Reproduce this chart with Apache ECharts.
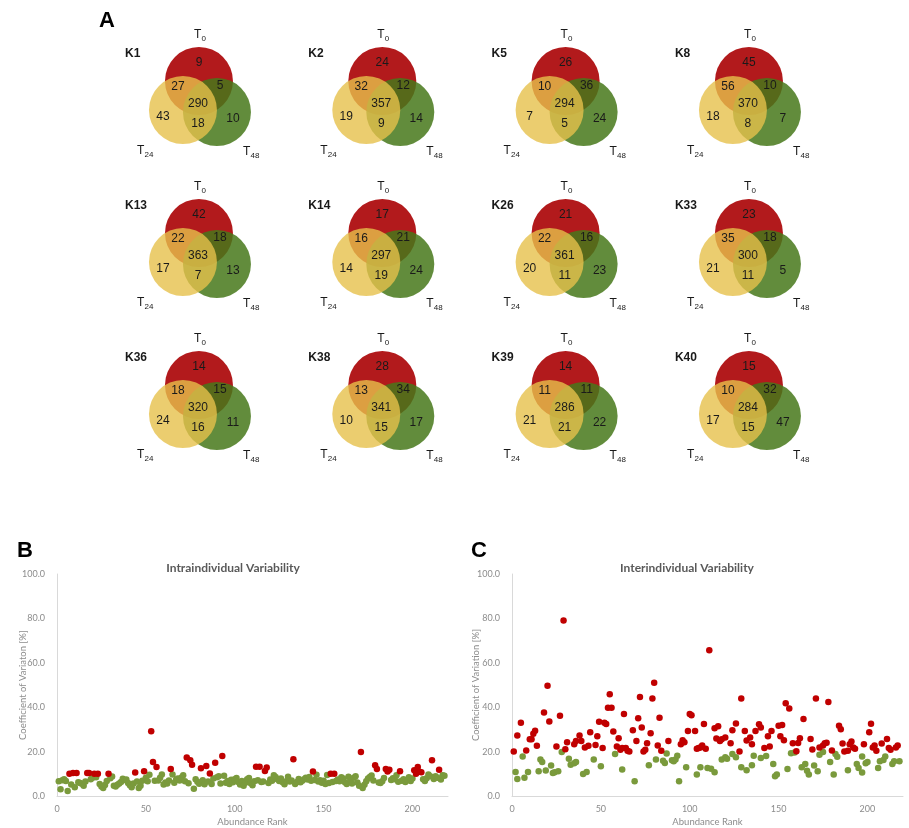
<!DOCTYPE html>
<html>
<head>
<meta charset="utf-8">
<script src="https://cdn.jsdelivr.net/npm/echarts@6/dist/echarts.min.js"></script>
<style>html,body{margin:0;padding:0;background:#fff}#c{width:909px;height:828px}</style>
</head>
<body>
<div id="c"></div>
<script>
// ---------- Panel A: Venn counts ----------
const vennNames = ['K1','K2','K5','K8','K13','K14','K26','K33','K36','K38','K39','K40'];
const onlyT0   = [9,24,26,45,42,17,21,23,14,28,14,15];
const t0t24    = [27,32,10,56,22,16,22,35,18,13,11,10];
const t0t48    = [5,12,36,10,18,21,16,18,15,34,11,32];
const allThree = [290,357,294,370,363,297,361,300,320,341,286,284];
const onlyT24  = [43,19,7,18,17,14,20,21,24,10,21,17];
const t24t48   = [18,9,5,8,7,19,11,11,16,15,21,15];
const onlyT48  = [10,14,24,7,13,24,23,5,11,17,22,47];

// ---------- Panel B: intraindividual CV ----------
const intraRed = [[7,10.0],[9,10.4],[11,10.4],[17,10.4],[18,10.4],[21,10.0],[23,10.0],[29,10.0],[44,10.6],[49,11.2],
 [53,29.2],[54,15.3],[56,13.1],[64,12.2],[73,17.3],[75,16.1],[76,14.1],[81,12.5],[84,13.5],[86,10.1],[89,15.0],[93,18.0],
 [112,13.2],[114,13.2],[117,11.3],[118,12.8],[133,16.5],[144,11.0],[154,10.0],[156,10.0],[171,19.8],[179,13.8],[180,12.2],
 [185,12.2],[186,11.0],[187,11.8],[193,11.2],[201,11.6],[202,10.0],[203,13.1],[204,10.9],[205,10.7],[211,16.1],[215,11.8]];
// green values by abundance rank 1..218 (null = rank shown in red)
const intraGreen = [
 6.7,3.0,7.1,7.6,6.8,2.3,null,5.2,null,3.9,
 null,6.2,5.8,5.5,4.6,6.5,null,null,7.6,8.2,
 null,8.5,null,5.4,4.3,3.6,5.0,6.8,null,8.0,
 8.8,4.6,4.3,5.1,5.6,6.3,7.8,7.2,7.4,5.9,
 4.8,3.9,5.6,null,6.5,3.6,4.6,6.9,null,8.2,
 6.7,9.6,null,null,6.9,null,7.0,8.2,9.7,5.2,
 6.1,5.6,7.0,null,9.7,6.0,7.3,7.9,7.0,8.3,
 9.4,6.6,null,5.7,null,null,3.3,7.5,6.4,5.5,
 null,7.1,5.3,null,6.5,null,5.4,7.9,null,8.5,
 8.9,5.6,null,9.1,6.0,6.8,5.4,7.3,6.2,7.6,
 8.1,6.3,5.2,6.8,4.6,6.0,7.6,8.1,5.7,4.8,
 6.6,null,7.1,null,6.3,6.5,null,null,5.9,7.4,
 6.9,9.3,8.6,7.5,6.8,7.9,6.2,5.3,6.6,8.7,
 6.5,7.0,null,5.4,6.3,7.7,6.2,6.9,7.6,8.2,
 7.4,8.6,6.9,null,7.2,9.6,6.5,7.1,6.0,6.9,
 5.4,9.5,5.9,null,6.3,null,6.8,7.4,6.6,8.5,
 7.9,6.2,5.4,8.7,6.8,5.6,8.2,8.9,6.1,4.6,
 null,3.6,5.1,6.6,7.9,8.6,9.2,7.0,null,null,
 6.1,5.9,6.7,8.1,null,null,null,7.2,8.0,7.5,
 9.3,6.4,null,6.9,7.6,6.3,7.1,8.4,6.8,7.9,
 null,null,null,null,null,7.5,6.8,8.0,9.7,8.9,
 null,7.7,8.9,8.2,null,7.4,9.4,9.1];

// ---------- Panel C: interindividual CV ----------
const interRed = [[1,20.1],[3,27.2],[5,33.0],[8,20.5],[10,25.6],[11,25.6],[12,28.0],[13,29.4],[14,22.6],[18,37.6],
 [20,49.7],[21,33.6],[25,22.3],[27,36.1],[29,79.0],[30,21.1],[31,24.2],[35,23.3],[36,24.8],[38,27.2],[39,24.8],
 [41,21.9],[43,22.6],[44,28.7],[47,23.0],[48,26.9],[49,33.4],[51,21.6],[52,33.0],[53,32.4],[54,39.7],[55,45.8],
 [56,39.7],[57,29.1],[59,22.3],[60,26.0],[61,20.8],[62,21.6],[63,36.9],[64,21.6],[65,20.4],[66,20.1],[68,29.6],
 [70,24.8],[71,35.0],[72,44.6],[73,30.9],[74,20.1],[75,20.8],[76,23.8],[78,28.3],[79,43.9],[80,51.0],[82,22.8],
 [83,35.3],[84,20.4],[88,24.8],[95,23.3],[96,25.1],[97,24.2],[99,29.3],[100,36.9],[101,36.4],[103,29.3],[104,21.3],
 [105,21.6],[106,21.9],[107,22.8],[108,32.4],[109,21.3],[111,65.7],[114,30.5],[115,25.9],[116,31.4],[117,24.8],
 [118,25.6],[120,26.3],[123,23.8],[124,29.6],[126,32.7],[128,20.1],[129,43.9],[131,29.3],[132,25.0],[134,26.3],
 [135,23.3],[137,29.3],[139,32.3],[140,30.8],[142,21.6],[144,26.9],[145,22.3],[146,29.3],[150,31.7],[151,26.9],
 [152,32.0],[153,25.1],[154,41.8],[156,39.4],[158,23.8],[160,20.2],[161,23.9],[162,26.0],[164,34.7],[168,25.7],
 [169,21.0],[171,43.9],[173,21.9],[175,22.8],[176,23.8],[177,24.0],[178,42.3],[180,20.5],[184,31.7],[185,30.1],
 [186,23.7],[187,20.1],[189,20.4],[190,23.3],[191,24.5],[192,21.9],[193,21.3],[198,23.3],[201,28.7],[202,32.6],
 [203,21.9],[204,22.8],[205,20.4],[208,23.6],[211,25.7],[212,21.6],[213,20.8],[216,21.9],[217,22.8]];
const interGreen = [[2,10.8],[3,7.7],[6,17.8],[7,8.2],[9,10.8],[15,11.1],[16,16.4],[17,15.3],[19,11.5],[22,13.7],
 [23,10.4],[24,10.7],[26,11.1],[28,19.8],[32,16.8],[33,14.1],[35,14.7],[36,15.3],[40,9.9],[42,10.8],[46,16.4],
 [50,13.4],[58,18.9],[62,11.9],[69,6.7],[77,13.8],[81,16.4],[85,15.9],[86,14.9],[87,19.2],[90,16.1],[91,15.6],
 [92,16.4],[93,18.1],[94,6.7],[98,12.9],[104,9.7],[106,12.9],[110,12.6],[112,12.3],[114,10.7],[118,16.4],[120,17.5],
 [121,16.8],[124,18.9],[126,17.4],[129,12.9],[132,11.6],[135,13.8],[136,18.1],[140,17.1],[143,18.0],[147,14.4],
 [148,8.9],[149,9.7],[155,12.2],[157,19.3],[159,19.6],[163,12.9],[165,14.4],[166,11.4],[167,9.7],[170,13.7],
 [172,11.2],[173,18.6],[175,19.8],[179,15.3],[181,9.7],[182,18.9],[183,17.7],[189,11.6],[194,14.4],[195,12.6],
 [197,10.6],[197,17.8],[199,14.7],[200,15.3],[206,12.6],[207,15.6],[209,16.2],[210,17.8],[214,14.4],[215,15.6],[218,15.6]];

const cvTicks = [0,20,40,60,80,100];
const rankTicks = [0,50,100,150,200];

// ---------- rendering ----------
const ARIAL = '"Liberation Sans", Arial, sans-serif';
const CHARTFONT = 'Lato, "Open Sans", sans-serif';
const RED = '#c00000', GREEN = '#7a9a3c';

function renderVenn(params, api) {
  const i = api.value(2);
  const p = api.coord([api.value(0), api.value(1)]);
  const cx = p[0], cy = p[1], R = 34;
  const txt = (t, dx, dy, font, align) => ({
    type: 'text', z2: 10,
    style: { text: String(t), x: cx + dx, y: cy + dy, align: align || 'center', verticalAlign: 'middle',
             font: font || ('12px ' + ARIAL), fill: '#1a1a1a' }
  });
  const tLab = (sub, dx, dy) => [
    txt('T', dx, dy, '12px ' + ARIAL, 'left'),
    txt(sub, dx + 7.5, dy + 3.5, '8px ' + ARIAL, 'left')
  ];
  return {
    type: 'group',
    children: [
      { type: 'circle', shape: { cx: cx, cy: cy, r: R }, style: { fill: 'rgb(178,26,28)' } },
      { type: 'circle', shape: { cx: cx + 18, cy: cy + 31, r: R }, style: { fill: 'rgb(71,120,26)', opacity: 0.85 } },
      { type: 'circle', shape: { cx: cx - 16, cy: cy + 29, r: R }, style: { fill: 'rgb(230,192,75)', opacity: 0.8 } },
      txt(onlyT0[i], 0, -18),
      txt(t0t24[i], -21, 6),
      txt(t0t48[i], 21, 5),
      txt(allThree[i], -1, 23),
      txt(onlyT24[i], -36, 36),
      txt(t24t48[i], -1, 43),
      txt(onlyT48[i], 34, 38),
      txt(vennNames[i], -74, -27, 'bold 12px ' + ARIAL, 'left'),
      ...tLab('0', -5, -46),
      ...tLab('24', -62, 70),
      ...tLab('48', 44, 71)
    ]
  };
}

function cvAxes(gi, yName, yGap) {
  const xAxis = {
    gridIndex: gi, type: 'value', min: 0, max: 220, interval: 50,
    axisLine: { show: true, lineStyle: { color: '#d9d9d9', width: 1 } },
    axisTick: { show: false }, splitLine: { show: false },
    axisLabel: { color: '#8c8c8c', fontSize: 9, fontFamily: CHARTFONT, margin: 9, showMaxLabel: false,
                 formatter: v => rankTicks.includes(v) ? String(v) : '' },
    name: 'Abundance Rank', nameLocation: 'middle', nameGap: 21, nameMoveOverlap: false,
    nameTextStyle: { color: '#8c8c8c', fontSize: 9.5, fontFamily: CHARTFONT }
  };
  const yAxis = {
    gridIndex: gi, type: 'value', min: 0, max: 100, interval: 20,
    axisLine: { show: true, lineStyle: { color: '#d9d9d9', width: 1 } },
    axisTick: { show: false }, splitLine: { show: false },
    axisLabel: { color: '#8c8c8c', fontSize: 9, fontFamily: CHARTFONT, margin: 12,
                 formatter: v => cvTicks.includes(v) ? v.toFixed(1) : '' },
    name: yName, nameLocation: 'middle', nameGap: yGap, nameRotate: 90, nameMoveOverlap: false,
    nameTextStyle: { color: '#8c8c8c', fontSize: 9.5, fontFamily: CHARTFONT }
  };
  return [xAxis, yAxis];
}

const [bx, by] = cvAxes(1, 'Coefficient of Variaton [%]', 29);
const [cxA, cyA] = cvAxes(2, 'Coefficient of Variation [%]', 31);

const scatterStyle = (color) => ({ color: color, opacity: 1 });
const DOT = 6.5;

const option = {
  animation: false,
  backgroundColor: '#fff',
  title: [
    { text: 'A', left: 94, top: 5, textStyle: { fontSize: 22, fontWeight: 'bold', fontFamily: ARIAL, color: '#000' } },
    { text: 'B', left: 12, top: 535, textStyle: { fontSize: 22, fontWeight: 'bold', fontFamily: ARIAL, color: '#000' } },
    { text: 'C', left: 466, top: 535, textStyle: { fontSize: 22, fontWeight: 'bold', fontFamily: ARIAL, color: '#000' } },
    { text: 'Intraindividual Variability', left: 228, top: 557, textAlign: 'center',
      textStyle: { fontSize: 12, fontWeight: 'bold', fontFamily: CHARTFONT, color: '#595959' } },
    { text: 'Interindividual Variability', left: 682, top: 557, textAlign: 'center',
      textStyle: { fontSize: 12, fontWeight: 'bold', fontFamily: CHARTFONT, color: '#595959' } }
  ],
  grid: [
    { left: 107.3, top: 5, width: 733.3, height: 456 },
    { left: 57, top: 574, width: 391, height: 224 },
    { left: 512, top: 574, width: 391, height: 224 }
  ],
  xAxis: [
    { gridIndex: 0, type: 'value', min: -0.5, max: 3.5, show: false },
    bx, cxA
  ],
  yAxis: [
    { gridIndex: 0, type: 'value', min: -0.5, max: 2.5, inverse: true, show: false },
    by, cyA
  ],
  series: [
    { type: 'custom', xAxisIndex: 0, yAxisIndex: 0, silent: true, clip: false,
      data: vennNames.map((n, i) => [i % 4, Math.floor(i / 4), i]), renderItem: renderVenn },
    { type: 'scatter', xAxisIndex: 1, yAxisIndex: 1, symbolSize: DOT, itemStyle: scatterStyle(GREEN),
      data: intraGreen.map((v, i) => [i + 1, v]).filter(d => d[1] !== null) },
    { type: 'scatter', xAxisIndex: 1, yAxisIndex: 1, symbolSize: DOT, itemStyle: scatterStyle(RED), data: intraRed },
    { type: 'scatter', xAxisIndex: 2, yAxisIndex: 2, symbolSize: DOT, itemStyle: scatterStyle(GREEN), data: interGreen },
    { type: 'scatter', xAxisIndex: 2, yAxisIndex: 2, symbolSize: DOT, itemStyle: scatterStyle(RED), data: interRed }
  ]
};

const chart = echarts.init(document.getElementById('c'), null, { renderer: 'canvas' });
chart.setOption(option);
</script>
</body>
</html>
